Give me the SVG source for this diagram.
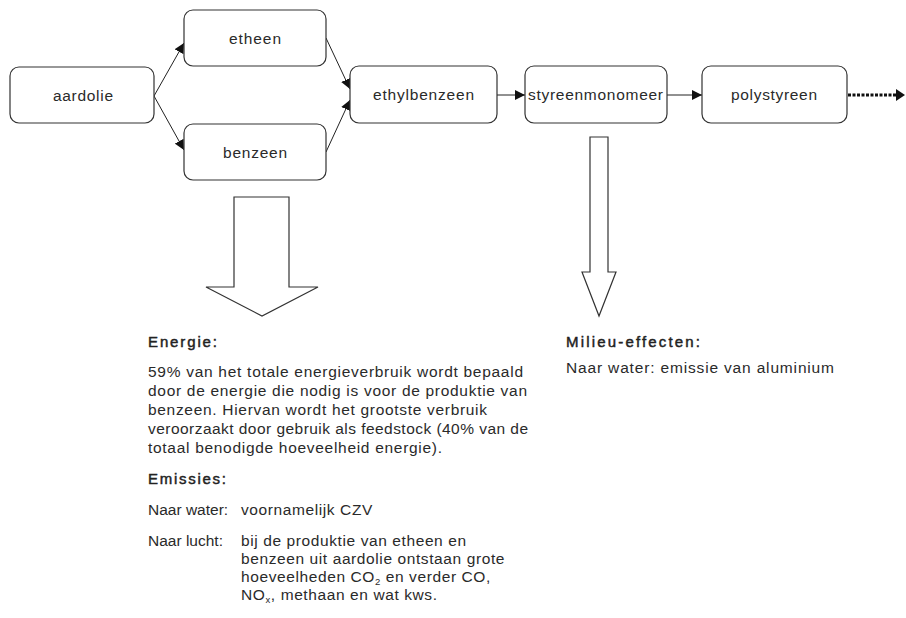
<svg xmlns="http://www.w3.org/2000/svg" width="906" height="618" viewBox="0 0 906 618">
  <style>
    .node rect { fill: #ffffff; stroke: #333333; stroke-width: 1.2; }
    .label { font-family: "Liberation Sans", Arial, sans-serif; font-size: 15.5px; fill: #2a2a2a; text-anchor: middle; }
    .edge { stroke: #222222; stroke-width: 1; fill: none; }
    .dotted { stroke: #111111; stroke-width: 3; stroke-dasharray: 3 1.5; fill: none; }
    .block { fill: #ffffff; stroke: #333333; stroke-width: 1.2; }
    .txt { font-family: "Liberation Sans", Arial, sans-serif; font-size: 15.5px; fill: #2a2a2a; }
    .loose { letter-spacing: 0.6px; }
    .head { font-family: "Liberation Sans", Arial, sans-serif; font-size: 15px; fill: #222222; stroke: #222222; stroke-width: 0.45; }
    .sub { font-size: 9.5px; }
  </style>
  <defs>
    <marker id="arrow" viewBox="0 0 10 10" refX="10" refY="5" markerWidth="10" markerHeight="10" markerUnits="userSpaceOnUse" orient="auto">
      <path d="M0,0 L10,5 L0,10 Z" fill="#111111"/>
    </marker>
  </defs>

  <rect width="906" height="618" fill="#ffffff"/>

  <!-- connectors -->
  <g id="connectors">
    <line class="edge" x1="154" y1="96" x2="184" y2="43" marker-end="url(#arrow)"/>
    <line class="edge" x1="154" y1="96" x2="184" y2="150" marker-end="url(#arrow)"/>
    <line class="edge" x1="326" y1="38" x2="350" y2="89" marker-end="url(#arrow)"/>
    <line class="edge" x1="326" y1="152" x2="350" y2="100" marker-end="url(#arrow)"/>
    <line class="edge" x1="497" y1="95" x2="525" y2="95" marker-end="url(#arrow)"/>
    <line class="edge" x1="667" y1="95" x2="702" y2="95" marker-end="url(#arrow)"/>
    <line class="dotted" x1="848" y1="95" x2="896" y2="95"/>
    <path d="M896,89 L905,95 L896,101 Z" fill="#111111"/>
  </g>

  <!-- process steps -->
  <g id="node-aardolie" class="node">
    <rect x="10" y="67" width="144" height="56" rx="9"/>
    <text class="label" x="83" y="101" textLength="60" lengthAdjust="spacing">aardolie</text>
  </g>
  <g id="node-etheen" class="node">
    <rect x="184" y="10" width="142" height="56" rx="9"/>
    <text class="label" x="255" y="44" textLength="52" lengthAdjust="spacing">etheen</text>
  </g>
  <g id="node-benzeen" class="node">
    <rect x="184" y="124" width="142" height="56" rx="9"/>
    <text class="label" x="255" y="158" textLength="64" lengthAdjust="spacing">benzeen</text>
  </g>
  <g id="node-ethylbenzeen" class="node">
    <rect x="350" y="66" width="147" height="57" rx="9"/>
    <text class="label" x="423.5" y="100" textLength="101" lengthAdjust="spacing">ethylbenzeen</text>
  </g>
  <g id="node-styreenmonomeer" class="node">
    <rect x="525" y="66" width="142" height="57" rx="9"/>
    <text class="label" x="595.5" y="100" textLength="135" lengthAdjust="spacing">styreenmonomeer</text>
  </g>
  <g id="node-polystyreen" class="node">
    <rect x="702" y="66" width="145" height="57" rx="9"/>
    <text class="label" x="774" y="100" textLength="86" lengthAdjust="spacing">polystyreen</text>
  </g>

  <!-- block arrows pointing to the notes -->
  <g id="arrow-energie">
    <path class="block" d="M234,197 L289,197 L289,287 L318,287 L262,316 L206,287 L234,287 Z"/>
  </g>
  <g id="arrow-milieu">
    <path class="block" d="M590,137 L608,137 L608,272 L616,272 L599,316 L582,272 L590,272 Z"/>
  </g>

  <!-- notes: energy and emissions -->
  <g id="notes-energie">
    <text class="head" x="148" y="347" textLength="69" lengthAdjust="spacing">Energie:</text>
    <text class="txt" x="148" y="377" textLength="375" lengthAdjust="spacing">59% van het totale energieverbruik wordt bepaald</text>
    <text class="txt" x="148" y="396" textLength="379" lengthAdjust="spacing">door de energie die nodig is voor de produktie van</text>
    <text class="txt" x="148" y="415" textLength="339" lengthAdjust="spacing">benzeen. Hiervan wordt het grootste verbruik</text>
    <text class="txt" x="148" y="434" textLength="380" lengthAdjust="spacing">veroorzaakt door gebruik als feedstock (40% van de</text>
    <text class="txt" x="148" y="453" textLength="294" lengthAdjust="spacing">totaal benodigde hoeveelheid energie).</text>

    <text class="head" x="148" y="484" textLength="78" lengthAdjust="spacing">Emissies:</text>
    <text class="txt" x="148" y="515">Naar water:</text>
    <text class="txt loose" x="241" y="515">voornamelijk CZV</text>
    <text class="txt" x="148" y="546">Naar lucht:</text>
    <text class="txt loose" x="241" y="546">bij de produktie van etheen en</text>
    <text class="txt loose" x="241" y="564">benzeen uit aardolie ontstaan grote</text>
    <text class="txt loose" x="241" y="582">hoeveelheden CO<tspan class="sub" dy="3">2</tspan><tspan dy="-3"> en verder CO,</tspan></text>
    <text class="txt loose" x="241" y="600">NO<tspan class="sub" dy="3">x</tspan><tspan dy="-3">, methaan en wat kws.</tspan></text>
  </g>

  <!-- notes: environmental effects -->
  <g id="notes-milieu">
    <text class="head" x="566" y="347" textLength="134" lengthAdjust="spacing">Milieu-effecten:</text>
    <text class="txt" x="566" y="373" textLength="268" lengthAdjust="spacing">Naar water: emissie van aluminium</text>
  </g>
</svg>
